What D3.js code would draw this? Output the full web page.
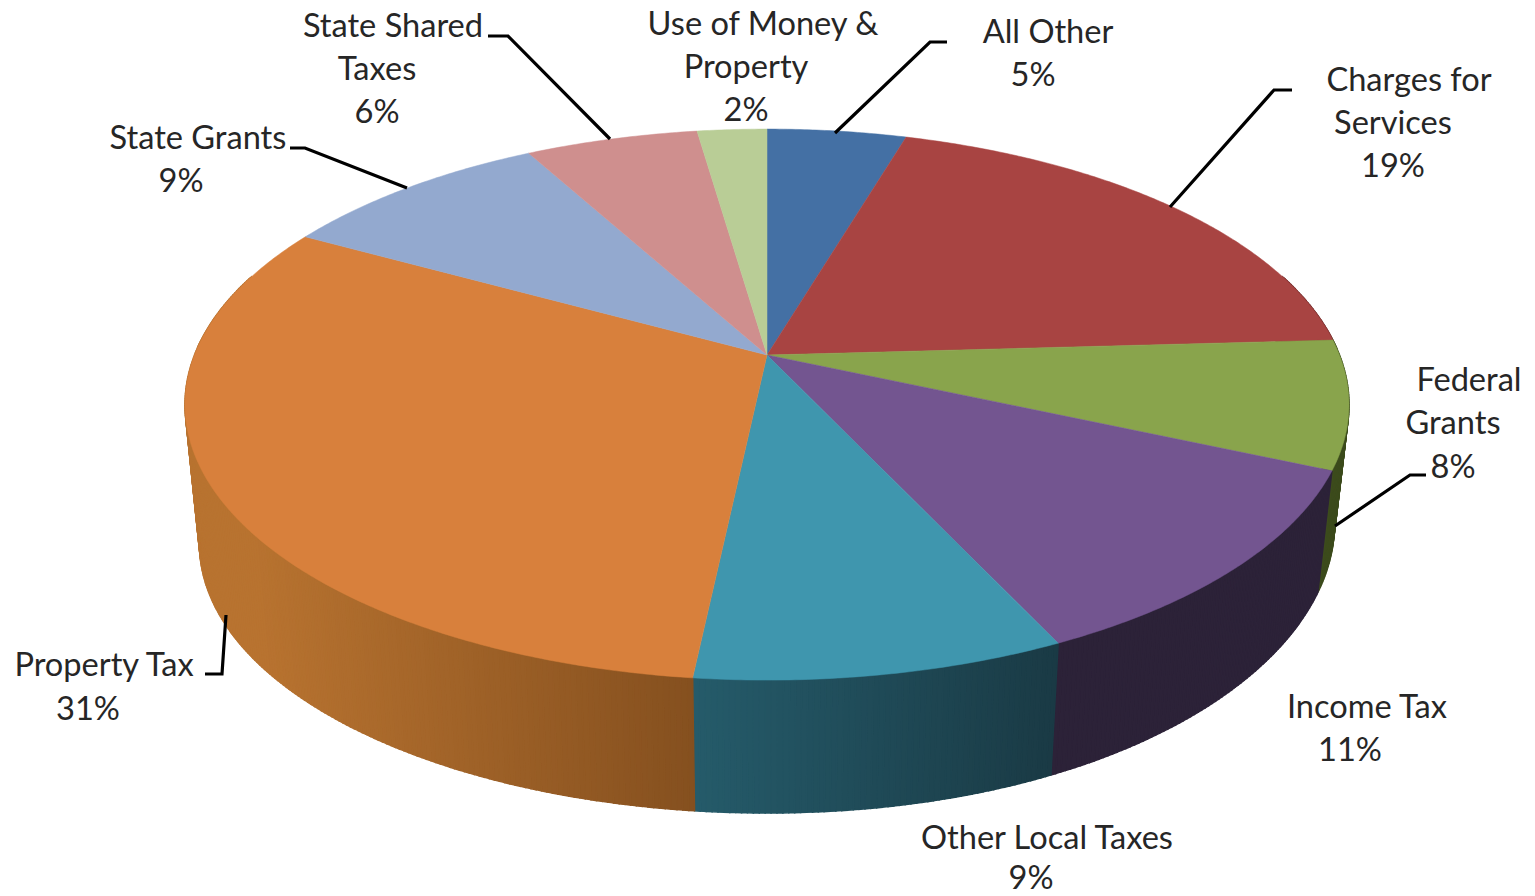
<!DOCTYPE html>
<html><head><meta charset="utf-8">
<script src="https://cdnjs.cloudflare.com/ajax/libs/d3/7.8.5/d3.min.js"></script>
<style>html,body{margin:0;padding:0;background:#fff;overflow:hidden}svg{display:block}</style>
</head><body><svg id="c" width="1535" height="896"></svg>
<script>
// Data
const categories = ["All Other","Charges for Services","Federal Grants","Income Tax","Other Local Taxes","Property Tax","State Grants","State Shared Taxes","Use of Money & Property"];
const labelPercents = [5,19,8,11,9,31,9,6,2];
// Slice sizes as they appear in the picture (percent of the circle)
const drawnShares = [4.6,19.5,7.5,11.4,8.7,31.3,9.0,5.7,2.3];
const topColors = ["#4470a4","#a84442","#89a44c","#735590","#3f96ae","#d8803c","#93a9cf","#cf8f8e","#b9cd96"];
const sideLight = ["#2f4e73","#752f2e","#42521f","#2c2238","#255b6a","#b87330","#667690","#906463","#81906a"];
const sideDark  = ["#2f4e73","#752f2e","#3c4b1c","#2c2238","#1a3a45","#85501f","#667690","#906463","#81906a"];

// Layout
const W=1535,H=896;
const geom={cx:767,cy:355,a:266.6,b:572.5,k:-0.18,depthScale:0.975,depthShift:141,rightLift:21,liftPow:2.8};
const FS=32.6;
const labelDy=1;
const labelLines=[
 [{t:"All Other",x:1048,y:42},{t:"%",x:1033,y:85}],
 [{t:"Charges for",x:1409,y:90},{t:"Services",x:1393,y:133},{t:"%",x:1393,y:176}],
 [{t:"Federal",x:1469,y:390},{t:"Grants",x:1453,y:433},{t:"%",x:1453,y:477}],
 [{t:"Income Tax",x:1367,y:717},{t:"%",x:1350,y:760}],
 [{t:"Other Local Taxes",x:1047,y:848},{t:"%",x:1031,y:888}],
 [{t:"Property Tax",x:104,y:675},{t:"%",x:88,y:719}],
 [{t:"State Grants",x:198,y:148},{t:"%",x:181,y:191}],
 [{t:"State Shared",x:393,y:36},{t:"Taxes",x:377,y:79},{t:"%",x:377,y:122}],
 [{t:"Use of Money &",x:763,y:34},{t:"Property",x:746,y:77},{t:"%",x:746,y:120}]
];
const leaders=[
 [[947,42],[930,42],[835,133]],
 [[1292,90],[1274,90],[1170,207]],
 [[1426,475],[1410,475],[1335,526]],
 [[488,36],[508,36],[610,139]],
 [[290,148],[305,148],[407,188]],
 [[205,674],[222,674],[226,615]]
];

const svg=d3.select("#c");
const pie=d3.pie().sort(null).value(d=>d)(drawnShares);

// Perspective projection of the unit circle. th is clockwise from 12 o'clock.
function proj(th,r=1){
  const u=r*Math.sin(th),v=-r*Math.cos(th),w=1+geom.k*v;
  return [geom.b*u/w,geom.a*v/w];
}
const topPt=(th,r=1)=>{const p=proj(th,r);return [geom.cx+p[0],geom.cy+p[1]];};
const botPt=th=>{
  const p=proj(th),u=Math.max(0,Math.sin(th));
  return [geom.cx+p[0]*geom.depthScale,geom.cy+p[1]*geom.depthScale+geom.depthShift-geom.rightLift*Math.pow(u,geom.liftPow)];
};
const line=d3.line();
const step=Math.PI/360;

// Sides: narrow strips along the visible rim
const gSide=svg.append("g");
pie.forEach((s,i)=>{
  const lo=Math.max(s.startAngle,Math.PI*0.4),hi=Math.min(s.endAngle,Math.PI*1.6);
  if(hi<=lo) return;
  const n=Math.max(1,Math.ceil((hi-lo)/step));
  const ang=d3.scaleLinear().domain([0,n]).range([lo,hi]);
  const x0=topPt(lo)[0],x1=topPt(hi)[0];
  const col=d3.scaleLinear().domain([Math.min(x0,x1),Math.max(x0,x1)]).range([sideLight[i],sideDark[i]]).interpolate(d3.interpolateRgb).clamp(true);
  d3.range(n).forEach(j=>{
    const a=ang(j),b=ang(j+1);
    const pts=[topPt(a),topPt(b),botPt(b),botPt(a)];
    const c=col(topPt((a+b)/2)[0]);
    gSide.append("path").attr("d",line(pts)+"Z").attr("fill",c).attr("stroke",c).attr("stroke-width",1.5);
  });
});

// Top face
const gTop=svg.append("g");
pie.forEach((s,i)=>{
  const n=Math.ceil((s.endAngle-s.startAngle)/step);
  const ang=d3.scaleLinear().domain([0,n]).range([s.startAngle,s.endAngle]);
  const pts=[[geom.cx,geom.cy],...d3.range(n+1).map(j=>topPt(ang(j)))];
  gTop.append("path").attr("d",line(pts)+"Z").attr("fill",topColors[i]).attr("stroke",topColors[i]).attr("stroke-width",0.5);
});

// Leaders
svg.append("g").selectAll("path").data(leaders).join("path")
  .attr("d",d=>line(d)).attr("fill","none").attr("stroke","#000").attr("stroke-width",3.2);

// Labels
const gText=svg.append("g").attr("font-family","Lato, 'Noto Sans', sans-serif").attr("font-size",FS).attr("fill","#262626").attr("text-anchor","middle");
labelLines.forEach((lines,i)=>{
  lines.forEach(l=>{
    gText.append("text").attr("x",l.x).attr("y",l.y+labelDy).text(l.t==="%"?labelPercents[i]+"%":l.t);
  });
});
</script></body></html>
